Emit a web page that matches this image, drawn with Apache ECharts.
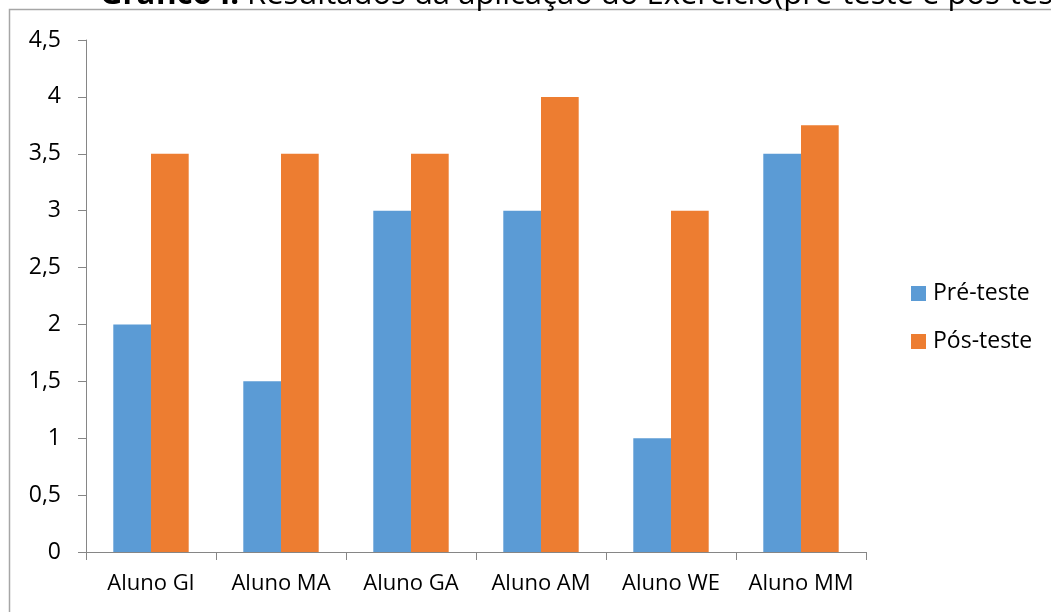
<!DOCTYPE html>
<html>
<head>
<meta charset="utf-8">
<script src="https://cdn.jsdelivr.net/npm/echarts@6/dist/echarts.min.js"></script>
<style>html,body{margin:0;padding:0;background:#fff;}#c{width:1051px;height:612px;}</style>
</head>
<body>
<div id="c"></div>
<script>
const categories = ['Aluno GI', 'Aluno MA', 'Aluno GA', 'Aluno AM', 'Aluno WE', 'Aluno MM'];
const preTeste = [2, 1.5, 3, 3, 1, 3.5];
const posTeste = [3.5, 3.5, 3.5, 4, 3, 3.75];
const seriesNames = ['Pré-teste', 'Pós-teste'];
const titleBold = 'Gráfico I:';
const titleRest = ' Resultados da aplicação do Exercício(pré-teste e pós-teste)';

const FONT = '"Open Sans", "Liberation Sans", sans-serif';
const chart = echarts.init(document.getElementById('c'), null, {renderer: 'canvas'});
chart.setOption({
  animation: false,
  backgroundColor: '#fff',
  color: ['#5b9bd5', '#ed7d31'],
  graphic: [
    {type: 'rect', shape: {x: 9.5, y: 9.5, width: 1100, height: 700}, style: {fill: 'none', stroke: '#a6a6a6', lineWidth: 1.5}, z: 0},
    {type: 'text', x: 100, y: -5, style: {
      text: '{b|' + titleBold + '}{n|' + titleRest + '}',
      rich: {b: {fontWeight: 'bold', fontSize: 31, fontFamily: FONT, fill: '#000'}, n: {fontSize: 31, fontFamily: FONT, fill: '#000'}},
      verticalAlign: 'middle'
    }}
  ],
  grid: {left: 86, right: 185, top: 40, bottom: 60},
  legend: {
    orient: 'vertical', left: 906, top: 277, itemWidth: 15, itemHeight: 15, itemGap: 25,
    icon: 'rect',
    textStyle: {fontSize: 23, fontFamily: FONT, color: '#000', padding: [0, 0, 0, 2]},
    data: seriesNames
  },
  xAxis: {
    type: 'category', data: categories,
    axisLine: {lineStyle: {color: '#868686'}},
    axisTick: {show: true, length: 8, lineStyle: {color: '#868686'}},
    axisLabel: {fontSize: 22, fontFamily: FONT, color: '#000', margin: 21, interval: 0, hideOverlap: false}
  },
  yAxis: {
    type: 'value', min: 0, max: 4.5, interval: 0.5,
    axisLine: {show: true, lineStyle: {color: '#868686'}},
    axisTick: {show: true, length: 8, inside: false, lineStyle: {color: '#868686'}},
    splitLine: {show: false},
    axisLabel: {fontSize: 23, fontFamily: FONT, color: '#000', margin: 25,
      formatter: v => String(v).replace('.', ',')}
  },
  series: [
    {name: seriesNames[0], type: 'bar', data: preTeste, barGap: '0%', barCategoryGap: '42%'},
    {name: seriesNames[1], type: 'bar', data: posTeste, barGap: '0%', barCategoryGap: '42%'}
  ]
});
</script>
</body>
</html>
